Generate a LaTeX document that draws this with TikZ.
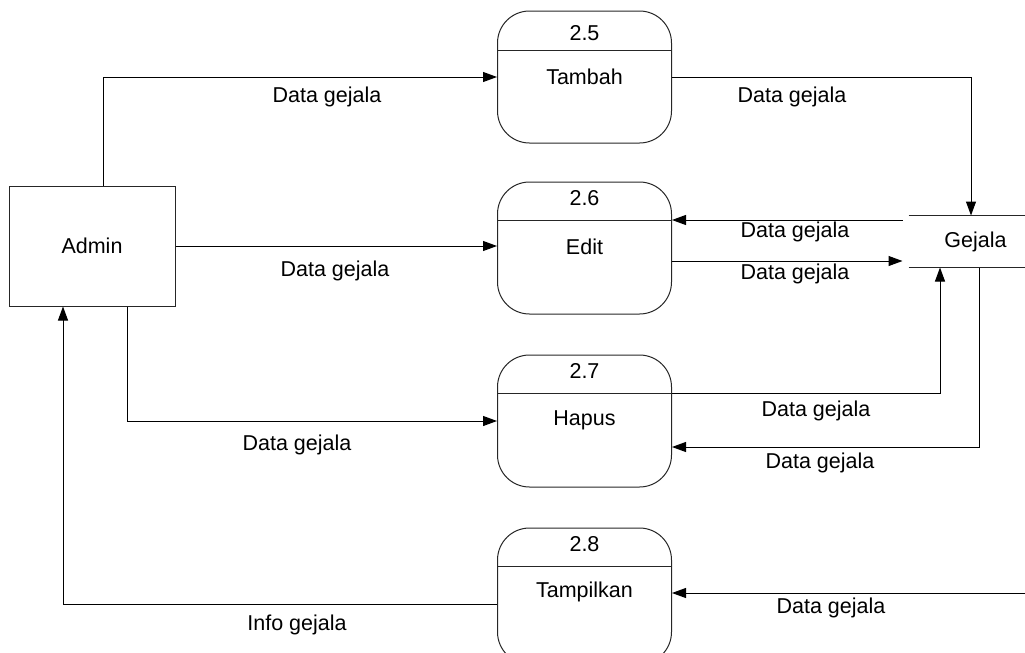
\documentclass[tikz,border=0pt]{standalone}
\usepackage{fontspec}
\setmainfont{Liberation Sans}
\usetikzlibrary{arrows.meta}
\begin{document}
\begin{tikzpicture}[x=1pt,y=-1pt,line width=1pt,
  font=\fontsize{21.5}{25}\selectfont,
  flow/.style={draw=black,-{Triangle[length=14pt,width=10pt]}},
  proc/.style={draw=black!85,rounded corners=32pt,minimum width=174pt,
    minimum height=132pt,inner sep=0pt},
  entity/.style={draw=black!85,minimum width=166pt,minimum height=120pt,inner sep=0pt},
  store/.style={minimum width=133pt,minimum height=51pt,inner sep=0pt},
  lbl/.style={inner sep=0pt}]
\useasboundingbox (0,0) rectangle (1025,653);
\clip (0,0) rectangle (1025,653);

% external entity
\node[entity] (admin) at (92,246) {Admin};

% data store
\node[store] (gej) at (975.5,241.5) {Gejala};
\draw[black!85] (gej.north west) -- (gej.north east);
\draw[black!85] (gej.south west) -- (gej.south east);

% processes
\node[proc] (p25) at (584.5,77) {};
\node[proc] (p26) at (584.5,248) {};
\node[proc] (p27) at (584.5,421) {};
\node[proc, minimum height=136pt] (p28) at (584.5,596) {};

\coordinate (d25) at (0,50);
\coordinate (d26) at (0,220);
\coordinate (d27) at (0,393);
\coordinate (d28) at (0,566);
\foreach \p/\d in {p25/d25,p26/d26,p27/d27,p28/d28}
  \draw[black!85] (\p.west |- \d) -- (\p.east |- \d);

\node[lbl] (n25) at (584.5,33) {2.5};
\node[lbl] (t25) at (584.5,77) {Tambah};
\node[lbl] (n26) at (584.5,198) {2.6};
\node[lbl] (t26) at (584.5,247) {Edit};
\node[lbl] (n27) at (584.5,371) {2.7};
\node[lbl] (t27) at (584.5,420) {Hapus};
\node[lbl] (n28) at (584.5,544) {2.8};
\node[lbl] (t28) at (584.5,592) {Tampilkan};

% helper coordinates for connector ends
\coordinate (gw) at ([xshift=-6pt]gej.west);
\coordinate (o26) at (0,261);
\coordinate (i27) at (0,447);
\coordinate (o28) at (0,604);
\coordinate (edge) at (1025,593);

% flows
\draw[flow] ([xshift=11pt]admin.north) |- (p25.west);
\draw[flow] (p25.east) -| ([xshift=-4.5pt]gej.north);
\draw[flow] (admin.east) -- (admin.east -| p26.west);
\draw[flow] (gw |- d26) -- (p26.east |- d26);
\draw[flow] (p26.east |- o26) -- (gw |- o26);
\draw[flow] (p27.east |- d27) -| ([xshift=-35.5pt]gej.south);
\draw[flow] ([xshift=3.5pt]gej.south) |- (p27.east |- i27);
\draw[flow] ([xshift=35pt]admin.south) |- (p27.west);
\draw[flow] (edge) -- (edge -| p28.east);
\draw[flow] (p28.west |- o28) -| ([xshift=-29pt]admin.south);

% flow labels
\node[lbl] (l1) at (327,97) {Data gejala};
\node[lbl] (l2) at (792,97) {Data gejala};
\node[lbl] (l3) at (335,271) {Data gejala};
\node[lbl] (l4) at (795,232) {Data gejala};
\node[lbl] (l5) at (795,274) {Data gejala};
\node[lbl] (l6) at (816,411) {Data gejala};
\node[lbl] (l7) at (820,463) {Data gejala};
\node[lbl] (l8) at (297,445) {Data gejala};
\node[lbl] (l9) at (831,608) {Data gejala};
\node[lbl] (l10) at (297,625) {Info gejala};
\end{tikzpicture}
\end{document}
